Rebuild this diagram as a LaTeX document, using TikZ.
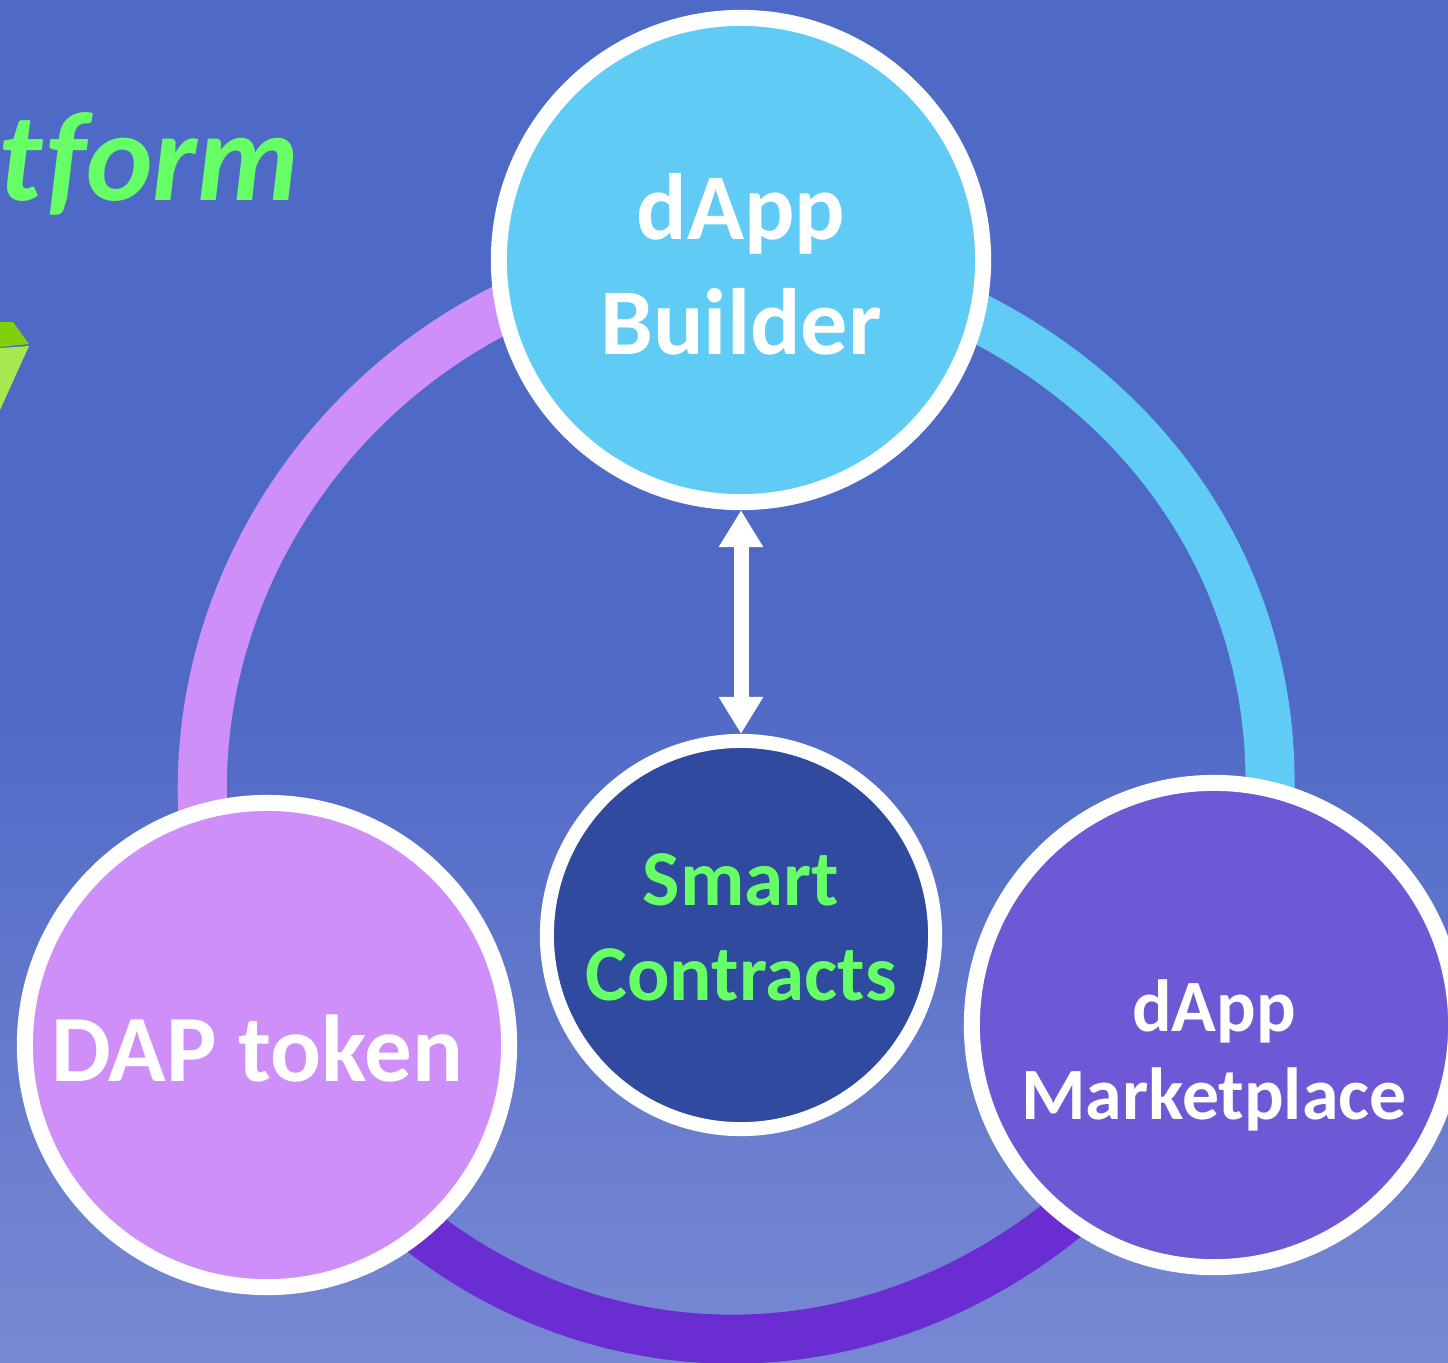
\documentclass[tikz,border=0pt]{standalone}
\usepackage{fontspec}
\setmainfont{Carlito}
\usetikzlibrary{arrows.meta,backgrounds}
\definecolor{bgtop}{HTML}{4F69C6}
\definecolor{bgbottom}{HTML}{7888D3}
\definecolor{skyblue}{HTML}{60CBF5}
\definecolor{lilac}{HTML}{CF8FF8}
\definecolor{violet}{HTML}{6A2DD2}
\definecolor{iris}{HTML}{6F58D6}
\definecolor{navy}{HTML}{2F4A9E}
\definecolor{mint}{HTML}{66FF66}
\definecolor{gemdark}{HTML}{80D00C}
\definecolor{gemlight}{HTML}{A6E84F}
\tikzset{
  big/.style={circle,draw=white,line width=.16cm,minimum size=4.84cm,inner sep=0pt,align=center,text=white},
  ring/.style={line width=.49cm,shorten <=-4pt,shorten >=-4pt},
  >={Triangle[width=.42cm,length=.37cm]},
}
\begin{document}
\begin{tikzpicture}[x=.01cm,y=-.01cm]
\useasboundingbox (0,0) rectangle (1448,1362);
\node [big,fill=skyblue,font=\fontsize{26.8}{32.7}\selectfont\bfseries] (builder) at (741,260) {\rule{0pt}{21.3pt}dApp\\Builder};
\node [big,fill=lilac,font=\fontsize{27}{32.7}\selectfont\bfseries] (dap) at (267,1045) {\rule{0pt}{21pt}DAP token\hspace{5.7pt}};
\node [big,fill=iris,font=\fontsize{21}{25}\selectfont\bfseries] (market) at (1214,1025) {\rule{0pt}{32pt}dApp\\Marketplace};
\node [circle,draw=white,line width=.14cm,minimum size=3.88cm,inner sep=0pt,align=center,text=mint,font=\fontsize{22.5}{27}\selectfont\bfseries,fill=navy] (smart) at (741,935) {Smart\\Contracts\rule[-4.5pt]{0pt}{0pt}};
\node [text=mint,anchor=base west,inner sep=0pt,font=\fontsize{36}{42}\selectfont\bfseries\itshape] (title) at (-2,200) {t\kern1.2pt form};
\draw [<->,white,line width=.15cm] (builder.south) -- (smart.north);
\begin{pgfonlayer}{background}
\fill [bgtop] (0,0) rectangle (1448,680);
\shade [top color=bgtop,bottom color=bgbottom] (0,680) rectangle (1448,1362);
\fill [gemdark] (0,322) -- (13,322) -- (29,344) -- (0,347) -- cycle;
\fill [gemlight] (0,348) -- (29,346) -- (0,410) -- cycle;
\draw [ring,skyblue] (builder.-14) .. controls (1165,411) and (1275,593) .. (market.77);
\draw [ring,lilac] (builder.192) .. controls (316,400) and (191,602) .. (dap.105);
\draw [ring,violet] (dap.-50) .. controls (613,1382) and (875,1375) .. (market.-128);
\end{pgfonlayer}
\end{tikzpicture}
\end{document}
